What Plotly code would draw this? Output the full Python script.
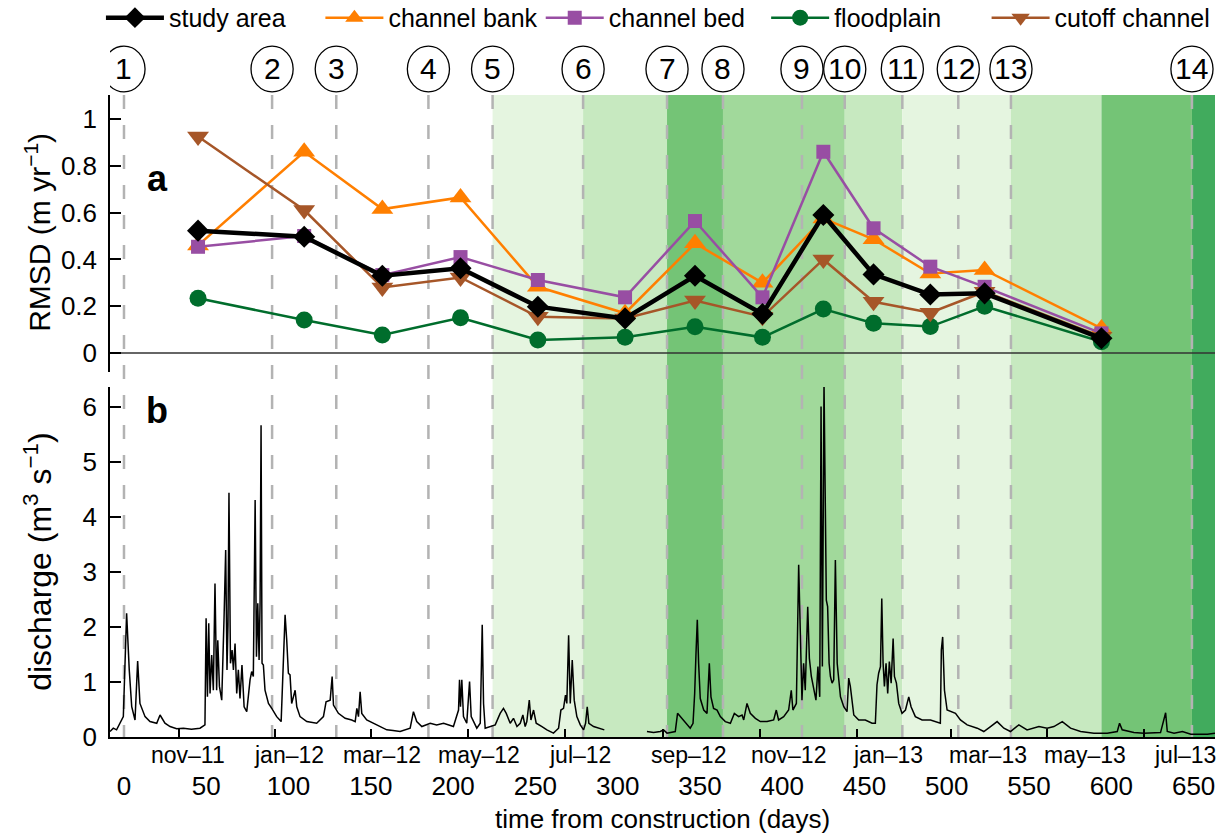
import plotly.graph_objects as go

# ---------------- data ----------------
survey_days = [0, 90, 129, 185, 224, 279, 330, 364, 412, 438, 473, 507, 539, 649]
survey_labels = ["1", "2", "3", "4", "5", "6", "7", "8", "9", "10", "11", "12", "13", "14"]

# RMSD plotted at the middle of each survey interval
sample_days = [45, 109.5, 157, 204.5, 251.5, 304.5, 347, 388, 425, 455.5, 490, 523, 594]
study_area = [0.523, 0.497, 0.33, 0.362, 0.198, 0.148, 0.33, 0.167, 0.59, 0.336, 0.25, 0.255, 0.063]
channel_bank = [0.46, 0.86, 0.615, 0.665, 0.283, 0.17, 0.469, 0.30, 0.575, 0.486, 0.34, 0.355, 0.105]
channel_bed = [0.454, 0.50, 0.333, 0.41, 0.312, 0.238, 0.564, 0.238, 0.86, 0.533, 0.369, 0.283, 0.084]
floodplain = [0.234, 0.141, 0.077, 0.151, 0.056, 0.067, 0.112, 0.067, 0.188, 0.127, 0.113, 0.20, 0.048]
cutoff_channel = [0.925, 0.611, 0.28, 0.323, 0.155, 0.148, 0.224, 0.155, 0.40, 0.219, 0.172, 0.262, 0.07]

# vegetation shading bands (start day, end day, colour)
band_start = [224, 279, 330, 364, 438, 473, 539, 594, 649]
band_end = [279, 330, 364, 438, 473, 539, 594, 649, 663]
band_color = ["#e5f5e0", "#c7e9c0", "#74c476", "#a1d99b", "#c7e9c0", "#e5f5e0", "#c7e9c0", "#74c476", "#41ab5d"]

q_day = [-8.5, -6.5, -4.5, -2.5, -0.4, 1.6, 3.2, 4.7, 6.7, 8.3, 9.7, 12.8, 15.8, 19.9, 21.9, 24.9, 28.0, 32.0,
         36.1, 41.0, 46.2, 49.2, 49.9, 50.7, 51.5, 52.3, 53.3, 54.3, 55.3, 56.3, 57.0, 58.0, 59.4, 60.8, 61.8,
         62.6, 63.2, 63.8, 64.7, 65.7, 66.5, 67.5, 68.5, 69.5, 70.5, 71.7, 73.0, 74.6, 76.6, 77.6, 78.6, 79.7,
         80.5, 81.3, 82.1, 82.7, 83.3, 83.9, 84.7, 85.7, 87.8, 89.8, 92.8, 95.5, 96.5, 97.9, 98.9, 99.9, 100.9,
         101.9, 104.0, 105.0, 107.0, 111.1, 117.1, 121.2, 122.8, 125.3, 126.5, 127.3, 130.3, 134.4, 138.4,
         140.5, 141.5, 142.5, 143.5, 144.5, 147.5, 153.6, 159.7, 163.5, 167.8, 173.9, 175.9, 177.9, 181.0,
         186.1, 190.0, 194.2, 200.2, 203.3, 203.9, 204.5, 205.3, 206.3, 208.3, 210.0, 211.0, 214.4, 216.5,
         217.7, 218.5, 219.5, 222.5, 225.6, 228.6, 230.6, 232.3, 234.7, 236.7, 238.8, 240.8, 242.4, 243.8,
         244.8, 246.3, 247.3, 248.9, 250.5, 254.0, 257.0, 261.0, 264.1, 265.5, 267.1, 268.3, 269.1, 270.2,
         271.2, 272.4, 273.6, 275.2, 277.3, 279.3, 280.5, 281.5, 282.5, 285.4, 289.4, 291.9, None,
         317.8, 321.8, 325.9, 327.9, 330.0, 335.0, 336.4, 338.1, 341.1, 344.1, 345.8, 346.8, 347.6, 348.4,
         349.2, 350.2, 352.3, 354.3, 355.7, 356.7, 358.3, 360.4, 362.4, 365.4, 368.5, 370.9, 373.5, 375.6,
         376.6, 378.6, 380.6, 383.7, 386.7, 390.8, 394.8, 396.4, 397.8, 400.9, 403.9, 405.5, 406.5, 408.6,
         410.0, 411.0, 412.0, 413.0, 414.0, 415.5, 416.5, 417.7, 419.1, 420.5, 421.7, 422.8, 423.6, 424.4,
         425.4, 426.0, 426.8, 427.6, 428.5, 429.3, 430.3, 431.3, 432.3, 433.4, 435.4, 437.4, 439.4, 440.4,
         441.4, 443.5, 446.5, 450.5, 454.6, 456.6, 457.6, 458.6, 459.7, 460.5, 461.3, 462.1, 463.1, 464.1,
         465.1, 466.2, 467.4, 468.2, 469.4, 470.8, 472.8, 474.9, 476.9, 478.3, 480.9, 485.0, 490.1, 496.1,
         496.7, 497.5, 498.6, 500.2, 503.2, 505.3, 508.3, 512.4, 518.5, 522.5, 526.6, 530.6, 534.7, 538.7,
         543.8, 548.8, 556.0, 561.0, 565.1, 570.2, 575.2, 581.3, 589.4, 597.5, 603.6, 605.0, 606.6, 613.7,
         619.8, 629.9, 633.0, 634.0, 638.1, 643.2, 648.3, 658.4, 663.0]
q_val = [0.10, 0.16, 0.13, 0.25, 0.37, 2.25, 1.22, 0.55, 0.31, 1.38, 0.61, 0.37, 0.28, 0.25, 0.40, 0.25, 0.19, 0.15,
         0.16, 0.14, 0.16, 0.22, 2.16, 0.73, 2.07, 0.79, 1.49, 0.85, 2.79, 0.85, 1.76, 0.92, 0.67, 2.16, 3.40,
         1.22, 2.04, 4.44, 1.34, 1.58, 1.22, 1.70, 0.79, 1.22, 0.70, 1.31, 0.55, 0.46, 1.04, 1.19, 1.10, 4.31,
         1.46, 2.43, 1.40, 2.43, 5.67, 1.34, 1.31, 0.85, 0.61, 0.52, 0.37, 0.28, 1.10, 2.22, 1.76, 1.16, 1.13,
         0.61, 0.85, 0.55, 0.37, 0.28, 0.25, 0.37, 0.64, 0.67, 1.10, 0.58, 0.43, 0.34, 0.31,
         0.28, 0.52, 0.37, 0.82, 0.43, 0.31, 0.22, 0.13, 0.12, 0.10, 0.16, 0.46, 0.28, 0.19,
         0.25, 0.22, 0.25, 0.19, 0.49, 1.04, 0.55, 1.04, 0.37, 0.25, 1.01, 0.37, 0.16, 0.25,
         2.04, 0.61, 0.16, 0.19, 0.22, 0.43, 0.52, 0.43, 0.25, 0.34, 0.19, 0.25, 0.40, 0.19,
         0.28, 0.67, 0.31, 0.49, 0.25, 0.19, 0.13, 0.07, 0.16, 0.49, 0.52, 0.76, 0.61, 1.85,
         0.61, 1.40, 0.67, 0.37, 0.22, 0.13, 0.25, 0.55, 0.25, 0.19, 0.16, 0.13, None,
         0.10, 0.08, 0.10, 0.13, 0.07, 0.10, 0.43, 0.37, 0.25, 0.16, 0.25, 0.79, 1.52, 2.13,
         1.34, 0.70, 0.49, 0.43, 1.34, 0.73, 0.52, 0.49, 0.37, 0.28, 0.25, 0.43, 0.37, 0.40,
         0.31, 0.61, 0.43, 0.34, 0.28, 0.28, 0.31, 0.49, 0.31, 0.37, 0.49, 0.85, 0.49, 0.61,
         3.13, 1.64, 0.67, 1.34, 0.85, 2.37, 1.43, 1.10, 0.85, 0.67, 1.28, 0.73, 6.01, 1.28,
         6.46, 4.25, 2.49, 2.37, 1.34, 1.10, 0.98, 1.04, 3.22, 1.34, 0.73, 0.55, 0.46, 1.07,
         0.92, 0.40, 0.31, 0.31, 0.25, 0.25, 0.95, 1.16, 1.28, 2.52, 1.34, 0.92, 1.34, 0.79,
         1.37, 0.98, 1.79, 1.10, 0.98, 0.61, 0.43, 0.49, 0.73, 0.55, 0.37, 0.31, 0.31, 0.25,
         1.58, 1.82, 0.85, 0.49, 0.46, 0.43, 0.31, 0.22, 0.16, 0.10, 0.19, 0.28, 0.16, 0.10,
         0.22, 0.13, 0.19, 0.16, 0.19, 0.28, 0.16, 0.10, 0.07, 0.07, 0.10, 0.25, 0.13, 0.08,
         0.07, 0.08, 0.44, 0.10, 0.07, 0.10, 0.05, 0.05, 0.07]

# axis ticks / labels
day_ticks = [0, 50, 100, 150, 200, 250, 300, 350, 400, 450, 500, 550, 600, 650]
month_tick_days = [33.2, 91.8, 150.4, 209.1, 267.7, 327.6, 386.7, 445.5, 502.3, 561.0, 619.8]
month_label_days = [39, 100, 157, 216, 277, 343, 404, 464, 525, 584, 645]
month_labels = ["nov\u201311", "jan\u201312", "mar\u201312", "may\u201312", "jul\u201312", "sep\u201312",
                "nov\u201312", "jan\u201313", "mar\u201313", "may\u201313", "jul\u201313"]
rmsd_ticks = [0, 0.2, 0.4, 0.6, 0.8, 1]
rmsd_ticktext = ["0", "0.2", "0.4", "0.6", "0.8", "1"]
q_ticks = [0, 1, 2, 3, 4, 5, 6]

x_range = [-8.5, 663]

# ---------------- figure ----------------
FONT = "Liberation Sans, Arial, Helvetica, sans-serif"
fig = go.Figure()

series = [
    ("channel bank", channel_bank, "#ff7f00", "triangle-up", 19, 2.5, "legend2"),
    ("channel bed", channel_bed, "#984ea3", "square", 14, 2.5, "legend3"),
    ("floodplain", floodplain, "#006d2c", "circle", 17, 2.5, "legend4"),
    ("cutoff channel", cutoff_channel, "#a65628", "triangle-down", 19, 2.5, "legend5"),
    ("study area", study_area, "black", "diamond", 17, 4.5, "legend"),
]
for name, vals, col, sym, msize, lw, leg in series:
    fig.add_trace(go.Scatter(
        x=sample_days, y=vals, name=name, mode="lines+markers",
        line=dict(color=col, width=lw),
        marker=dict(symbol=sym, size=msize, color=col),
        xaxis="x", yaxis="y", legend=leg, cliponaxis=False,
    ))

fig.add_trace(go.Scatter(
    x=q_day, y=q_val, mode="lines", line=dict(color="black", width=1.5),
    showlegend=False, connectgaps=False, xaxis="x2", yaxis="y2",
))

shapes = []
for s, e, c in zip(band_start, band_end, band_color):
    shapes.append(dict(type="rect", xref="x", yref="paper", x0=s, x1=e, y0=0, y1=1,
                       fillcolor=c, line=dict(width=0), layer="below"))
for d in survey_days:
    shapes.append(dict(type="line", xref="x", yref="paper", x0=d, x1=d, y0=1, y1=0,
                       line=dict(color="#b3b3b3", width=2.5, dash="14px,16px"), layer="below"))
# zero line of panel a
shapes.append(dict(type="line", xref="paper", yref="y", x0=0, x1=1, y0=0, y1=0,
                   line=dict(color="#333333", width=1.5), layer="below"))
# circled survey numbers
for d in survey_days:
    shapes.append(dict(type="circle", xref="x", yref="paper", x0=d - 12.8, x1=d + 12.8,
                       y0=1.0405 - 0.0355, y1=1.0405 + 0.0355,
                       line=dict(color="black", width=1.3), layer="above"))

annotations = []
for d, lab in zip(survey_days, survey_labels):
    annotations.append(dict(x=d, y=1.0405, xref="x", yref="paper", text=lab, showarrow=False,
                            xanchor="center", yanchor="middle", font=dict(size=30, family=FONT)))
for d, lab in zip(month_label_days, month_labels):
    annotations.append(dict(x=d, y=-0.028, xref="x2", yref="paper", text=lab, showarrow=False,
                            xanchor="center", yanchor="middle", font=dict(size=23, family=FONT)))
annotations += [
    dict(x=0.5, y=-0.1277, xref="paper", yref="paper", text="time from construction (days)",
         showarrow=False, xanchor="center", yanchor="middle", font=dict(size=26, family=FONT)),
    dict(x=-0.0653, y=0.7866, xref="paper", yref="paper", text="RMSD (m yr<sup>\u22121</sup>)",
         textangle=-90, showarrow=False, xanchor="center", yanchor="middle", font=dict(size=30, family=FONT)),
    dict(x=-0.0653, y=0.2726, xref="paper", yref="paper", text="discharge (m<sup>3</sup> s<sup>\u22121</sup>)",
         textangle=-90, showarrow=False, xanchor="center", yanchor="middle", font=dict(size=32, family=FONT)),
    dict(x=0.0426, y=0.8707, xref="paper", yref="paper", text="<b>a</b>", showarrow=False,
         xanchor="center", yanchor="middle", font=dict(size=36, family=FONT)),
    dict(x=0.0426, y=0.5093, xref="paper", yref="paper", text="<b>b</b>", showarrow=False,
         xanchor="center", yanchor="middle", font=dict(size=36, family=FONT)),
]

axis_common = dict(showgrid=False, zeroline=False, showline=True, linecolor="black", linewidth=1.5,
                   tickcolor="black", tickwidth=1.5, tickfont=dict(size=26, family=FONT, color="black"))

legend_x = [-0.0082, 0.1904, 0.3898, 0.5938, 0.7933]
leg_common = dict(y=1.12, xanchor="left", yanchor="middle", orientation="h", itemwidth=58,
                  bgcolor="rgba(0,0,0,0)", font=dict(size=25, family=FONT, color="black"))

fig.update_layout(
    width=1222, height=835,
    margin=dict(l=110, r=7, t=95, b=98, autoexpand=False),
    paper_bgcolor="white", plot_bgcolor="rgba(0,0,0,0)",
    font=dict(family=FONT, size=24, color="black"),
    xaxis=dict(domain=[0, 1], anchor="y", range=x_range, visible=False),
    yaxis=dict(domain=[0.5685, 1], anchor="x", range=[-0.0812, 1.1026], tickvals=rmsd_ticks,
               ticktext=rmsd_ticktext, ticks="inside", ticklen=11, ticklabelstandoff=6, **axis_common),
    xaxis2=dict(domain=[0, 1], anchor="y2", range=x_range, tickvals=day_ticks, ticks="",
                ticklabelstandoff=25,
                minor=dict(tickvals=month_tick_days, ticks="inside", ticklen=8, tickwidth=1.5,
                           tickcolor="black", showgrid=False),
                **axis_common),
    yaxis2=dict(domain=[0, 0.5452], anchor="x2", range=[0, 6.364], tickvals=q_ticks,
                ticks="inside", ticklen=11, ticklabelstandoff=6, **axis_common),
    shapes=shapes,
    annotations=annotations,
    legend=dict(x=legend_x[0], **leg_common),
    legend2=dict(x=legend_x[1], **leg_common),
    legend3=dict(x=legend_x[2], **leg_common),
    legend4=dict(x=legend_x[3], **leg_common),
    legend5=dict(x=legend_x[4], **leg_common),
)

fig.write_html("out.html")
